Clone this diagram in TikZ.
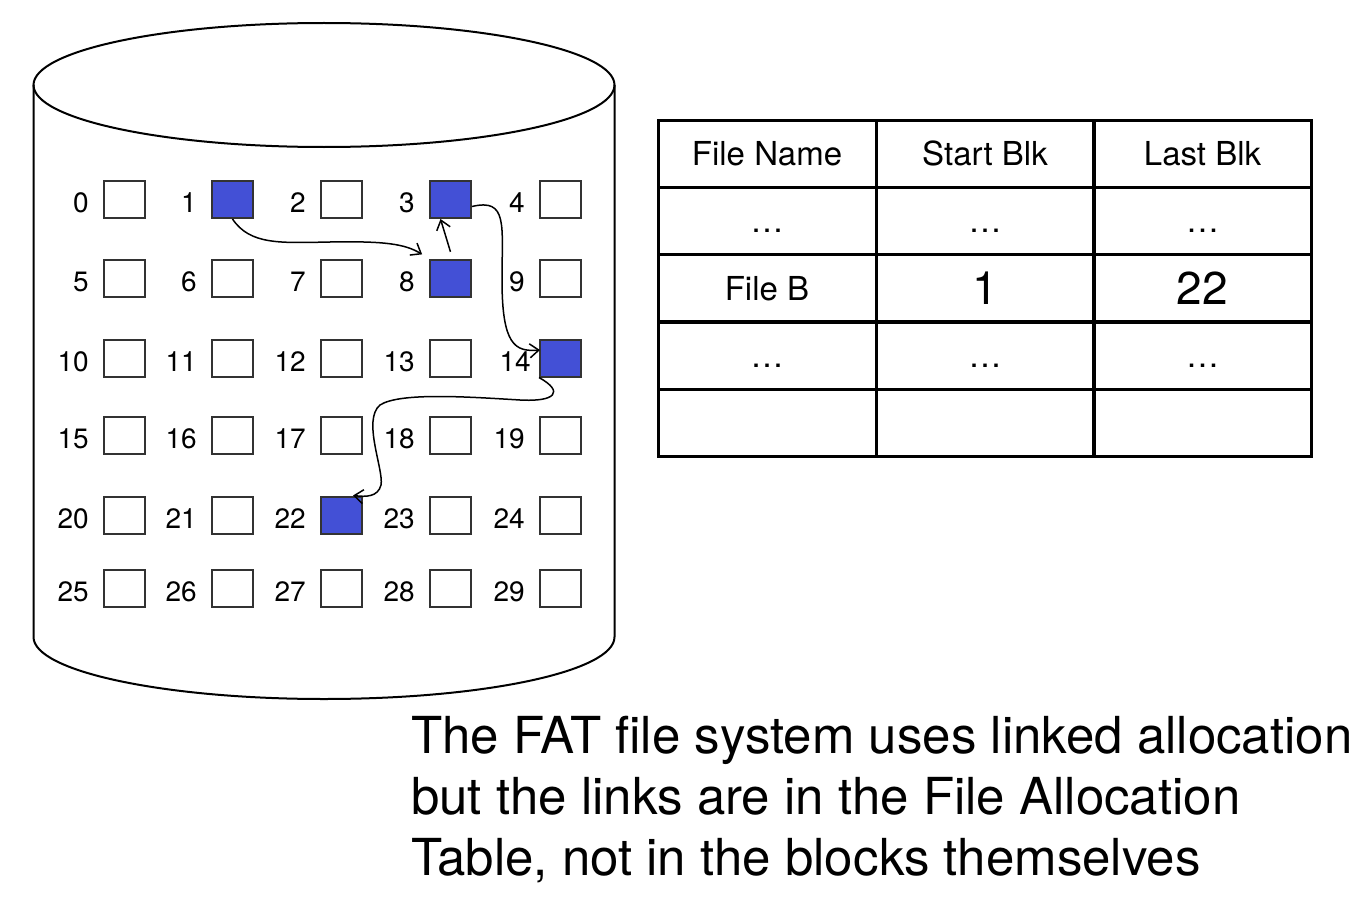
\documentclass[tikz,border=0pt]{standalone}
\usepackage{fontspec}
\setmainfont{TeX Gyre Heros}
\usepackage{xcolor}
\usetikzlibrary{calc,arrows.meta}
\definecolor{blkblue}{RGB}{67,80,214}
\definecolor{blkline}{RGB}{50,50,50}
\tikzset{
  blk/.style={draw=blkline, line width=2, minimum width=41, minimum height=37, inner sep=0},
  used/.style={blk, fill=blkblue, draw=black!80},
  num/.style={font=\fontsize{28}{32}\selectfont, inner sep=0, text height=26, text depth=0, label distance=14},
  cell/.style={draw, line width=3, minimum width=218, minimum height=67, inner sep=0, text height=24, text depth=0, font=\fontsize{33}{38}\selectfont},
  big/.style={text height=33, font=\fontsize{46}{52}\selectfont},
  link/.style={-{Straight Barb[length=9,width=14]}, line width=1.5}
}
\begin{document}
\begin{tikzpicture}[x=1pt,y=1pt,yscale=-1,xscale=1]
            \useasboundingbox (0,0) rectangle (1369,907);
            % the disk
            \draw [line width=2] (324,85) ellipse [x radius=290.5, y radius=62];
            \draw [line width=2] (33.5,85) -- (33.5,637) arc [start angle=180, end angle=0, x radius=290.5, y radius=62] -- (614.5,85);
            % blocks
            \node [blk,label={[num]left:0}] (b0) at (124.5,199.5) {};
            \node [used,label={[num]left:1}] (b1) at (232.5,199.5) {};
            \node [blk,label={[num]left:2}] (b2) at (341.5,199.5) {};
            \node [used,label={[num]left:3}] (b3) at (450.5,199.5) {};
            \node [blk,label={[num]left:4}] (b4) at (560.5,199.5) {};
            \node [blk,label={[num]left:5}] (b5) at (124.5,278) {};
            \node [blk,label={[num]left:6}] (b6) at (232.5,278) {};
            \node [blk,label={[num]left:7}] (b7) at (341.5,278) {};
            \node [used,label={[num]left:8}] (b8) at (450.5,278) {};
            \node [blk,label={[num]left:9}] (b9) at (560.5,278) {};
            \node [blk,label={[num]left:10}] (b10) at (124.5,358) {};
            \node [blk,label={[num]left:11}] (b11) at (232.5,358) {};
            \node [blk,label={[num]left:12}] (b12) at (341.5,358) {};
            \node [blk,label={[num]left:13}] (b13) at (450.5,358) {};
            \node [used,label={[num,label distance=8]left:14}] (b14) at (560.5,358) {};
            \node [blk,label={[num]left:15}] (b15) at (124.5,435.5) {};
            \node [blk,label={[num]left:16}] (b16) at (232.5,435.5) {};
            \node [blk,label={[num]left:17}] (b17) at (341.5,435.5) {};
            \node [blk,label={[num]left:18}] (b18) at (450.5,435.5) {};
            \node [blk,label={[num]left:19}] (b19) at (560.5,435.5) {};
            \node [blk,label={[num]left:20}] (b20) at (124.5,515) {};
            \node [blk,label={[num]left:21}] (b21) at (232.5,515) {};
            \node [used,label={[num]left:22}] (b22) at (341.5,515) {};
            \node [blk,label={[num]left:23}] (b23) at (450.5,515) {};
            \node [blk,label={[num]left:24}] (b24) at (560.5,515) {};
            \node [blk,label={[num]left:25}] (b25) at (124.5,588) {};
            \node [blk,label={[num]left:26}] (b26) at (232.5,588) {};
            \node [blk,label={[num]left:27}] (b27) at (341.5,588) {};
            \node [blk,label={[num]left:28}] (b28) at (450.5,588) {};
            \node [blk,label={[num]left:29}] (b29) at (560.5,588) {};
            % the chain of file B
            \draw [link, shorten >=8] (b1.south) .. controls (250,245) and (280,243) .. (330,242) .. controls (385,241) and (405,244) .. (b8.north west);
            \draw [link, shorten <=7] ($(b8.north)+(2,0)$) -- ($(b3.south)+(-10,0)$);
            \draw [link] ($(b3.east)+(0,7)$) .. controls (508,198) and (502,225) .. (502,280) .. controls (502,345) and (515,352) .. ($(b14.west)+(1,-8)$);
            \draw [link] (b14.south west) .. controls (565,392) and (555,402) .. (520,400) .. controls (470,397) and (400,392) .. (380,405) .. controls (362,420) and (384,470) .. (381,485) .. controls (378,497) and (366,497) .. ($(b22.north east)+(-10,0)$);
            % the table
            \node [cell] (h1) at (767,153.5) {File Name};
            \node [cell] (h2) at (985,153.5) {Start Blk};
            \node [cell] (h3) at (1202.5,153.5) {Last Blk};
            \node [cell] (r11) at (767,220.5) {\dots};
            \node [cell] (r12) at (985,220.5) {\dots};
            \node [cell] (r13) at (1202.5,220.5) {\dots};
            \node [cell] (r21) at (767,288) {File B};
            \node [cell,big] (r22) at (985,288) {1};
            \node [cell,big] (r23) at (1202.5,288) {22};
            \node [cell] (r31) at (767,355.5) {\dots};
            \node [cell] (r32) at (985,355.5) {\dots};
            \node [cell] (r33) at (1202.5,355.5) {\dots};
            \node [cell] (r41) at (767,423) {};
            \node [cell] (r42) at (985,423) {};
            \node [cell] (r43) at (1202.5,423) {};
            % note
            \node [anchor=north west, inner sep=0, align=left, font=\fontsize{51}{61}\selectfont] (note) at (411,716) {The FAT file system uses linked allocation\\but the links are in the File Allocation\\Table, not in the blocks themselves};
\end{tikzpicture}
\end{document}
